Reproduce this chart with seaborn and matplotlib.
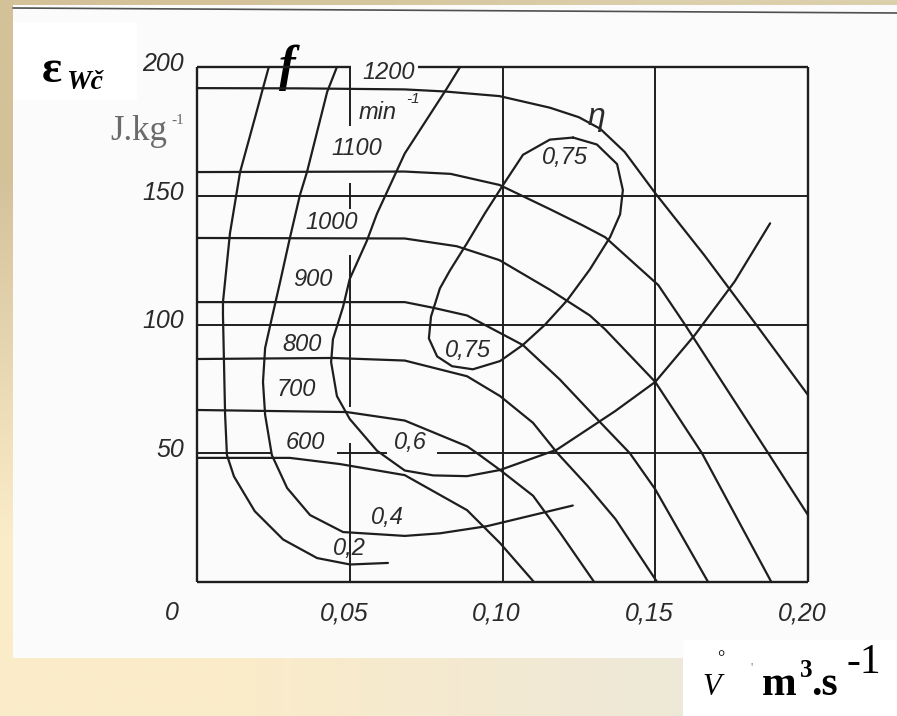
import numpy as np
import pandas as pd
import matplotlib
matplotlib.use("Agg")
import matplotlib.pyplot as plt
from matplotlib.patches import Rectangle
import seaborn as sns

# ---------------- data ----------------
# head-flow characteristics at constant speed (min^-1): flow Q [m3/s], specific energy E [J/kg]
speeds = [600, 700, 800, 900, 1000, 1100, 1200]
q_600 = [0, 0.0304, 0.0468, 0.068, 0.0884, 0.0992, 0.1103]
e_600 = [48.2, 48.2, 45.8, 41.5, 27.9, 15.1, 0]
q_700 = [0, 0.049, 0.068, 0.0884, 0.0917, 0.0992, 0.11, 0.1188, 0.13]
e_700 = [66.8, 66.0, 62.7, 52.7, 50, 43.5, 33.5, 19.2, 0]
q_800 = [0, 0.0445, 0.068, 0.0884, 0.0992, 0.11, 0.118, 0.1277, 0.137, 0.1506]
e_800 = [86.6, 87.0, 86.0, 79.9, 72.2, 61.8, 50, 37.5, 24.4, 0]
q_900 = [0, 0.068, 0.0773, 0.0884, 0.1067, 0.1188, 0.132, 0.1417, 0.15, 0.1673]
e_900 = [108.7, 108.7, 106.5, 103.5, 92, 78.6, 62, 50, 36, 0]
q_1000 = [0, 0.068, 0.085, 0.099, 0.1155, 0.1286, 0.1336, 0.15, 0.1653, 0.188]
e_1000 = [133.6, 133.4, 130.4, 125, 113.5, 103.5, 98.1, 77.7, 50, 0]
q_1100 = [0, 0.068, 0.083, 0.099, 0.1155, 0.1264, 0.1336, 0.151, 0.1597, 0.187, 0.2]
e_1100 = [159.2, 159.4, 158.5, 154.2, 144.8, 138.4, 133.9, 115.3, 100, 50, 26]
q_1200 = [0, 0.034, 0.068, 0.081, 0.099, 0.1155, 0.125, 0.132, 0.14, 0.15, 0.166, 0.183, 0.2]
e_1200 = [191.8, 191.7, 191.3, 190.5, 188.7, 184.2, 180.5, 176, 167, 151, 127, 100, 72.6]

# iso-efficiency lines
eta_levels = ["0,2", "0,4", "0,6", "0,75"]
q_eta02 = [0.0235, 0.0216, 0.0196, 0.0141, 0.0108, 0.0085, 0.0085, 0.0092, 0.0098,
           0.0121, 0.0189, 0.0282, 0.0393, 0.0501, 0.0625]
e_eta02 = [200, 191.8, 183, 159.2, 135.5, 108.7, 103.7, 64.9, 49.3,
           41, 27.5, 16.5, 9.3, 6.8, 7.4]
q_eta04 = [0.0458, 0.0426, 0.036, 0.0337, 0.0304, 0.0272, 0.0245, 0.0223, 0.0216,
           0.0223, 0.0245, 0.0295, 0.037, 0.0478, 0.068, 0.0795, 0.095, 0.123]
e_eta04 = [200, 190.3, 159.2, 150.3, 133.6, 116.5, 102.5, 90.9, 77.7,
           64.9, 49.3, 36.5, 26, 19.4, 17.9, 18.9, 21.7, 29.7]
q_eta06 = [0.0861, 0.0818, 0.068, 0.0589, 0.0556, 0.05, 0.0478, 0.0445, 0.0439,
           0.0458, 0.05, 0.0589, 0.068, 0.0773, 0.0884, 0.0992, 0.1178, 0.1368,
           0.15, 0.163, 0.176, 0.1876]
e_eta06 = [200, 191.7, 166.4, 143, 132.5, 117.7, 106.8, 94.3, 85.4,
           72.2, 63.3, 51, 43.3, 41.4, 41.1, 43.5, 51.4, 66.3,
           77.7, 96, 116.7, 139.3]
q_eta075 = [0.1231, 0.1155, 0.1067, 0.1002, 0.0943, 0.0884, 0.0828, 0.0795, 0.0766,
            0.0759, 0.0786, 0.0835, 0.0903, 0.0992, 0.1067, 0.1139, 0.1211, 0.1286,
            0.1352, 0.1385, 0.1394, 0.1375, 0.1309, 0.1231]
e_eta075 = [172.6, 171.8, 165.9, 154.2, 143.3, 131.6, 121, 114, 103.1,
            94.6, 87.6, 83.8, 82.6, 85.8, 92.1, 99.9, 109.3, 121.4,
            133.9, 142.8, 152.2, 162.3, 169.9, 172.6]

x_ticks = [0.05, 0.10, 0.15, 0.20]
x_tick_labels = ["0,05", "0,10", "0,15", "0,20"]
y_ticks = [50, 100, 150, 200]
y_tick_labels = ["50", "100", "150", "200"]

# ---------------- figure ----------------
sns.set_style("white")
plt.rcParams["font.family"] = ["Liberation Sans", "DejaVu Sans"]

W, H = 897, 716
fig = plt.figure(figsize=(W / 100, H / 100), dpi=100)

# page background (pixel coordinates, y downwards)
bg = fig.add_axes([0, 0, 1, 1], zorder=-10)
c_tl = np.array([211, 194, 153]) / 255
c_tr = np.array([220, 207, 172]) / 255
c_bl = np.array([251, 236, 201]) / 255
c_br = np.array([238, 232, 216]) / 255
grad = np.array([[c_tl, c_tr], [c_bl, c_br]])
bg.imshow(grad, extent=[0, W, H, 0], aspect="auto", interpolation="bilinear")
bg.set_xlim(0, W)
bg.set_ylim(H, 0)
bg.axis("off")
bg.add_patch(Rectangle((13, 5), W - 13, 653, color="#fbfbfb", lw=0))
bg.add_patch(Rectangle((683, 640), W - 683, H - 640, color="white", lw=0))
bg.add_patch(Rectangle((13, 22), 124, 78, color="white", lw=0))
bg.plot([13, W], [8, 13], color="#505050", lw=1.2)

# axis labels as lettered on the sheet
serif = "Liberation Serif"
bg.text(42, 82, "ε", family=serif, weight="bold", fontsize=34, color="black", va="baseline")
bg.text(66, 89, "Wč", family=serif, weight="bold", style="italic", fontsize=20,
        color="black", va="baseline")
bg.text(110, 140, "J.kg", family=serif, fontsize=25, color="#6a6a6a", va="baseline")
bg.text(171, 124, "-1", family=serif, fontsize=11, color="#6a6a6a", va="baseline")
bg.text(279, 80, "f", family=serif, weight="bold", style="italic", fontsize=36,
        color="black", va="baseline")
bg.text(702, 695, "V", family=serif, style="italic", fontsize=22, color="black", va="baseline")
bg.text(721, 659, "°", family=serif, fontsize=13, color="black", ha="center", va="center")
bg.text(752, 668, "'", family=serif, fontsize=9, color="#777777", ha="center", va="center")
bg.text(762, 695, "m", family=serif, weight="bold", fontsize=30, color="black", va="baseline")
bg.text(800, 677, "3", family=serif, weight="bold", fontsize=18, color="black", va="baseline")
bg.text(811, 695, ".s", family=serif, weight="bold", fontsize=30, color="black", va="baseline")
bg.text(846, 673, "-1", family=serif, fontsize=30, color="black", va="baseline")

# chart area
ax = fig.add_axes([197 / W, (H - 582) / H, 611 / W, 515 / H])
ax.set_xlim(0, 0.2)
ax.set_ylim(0, 200)
ax.patch.set_alpha(0)
for s in ax.spines.values():
    s.set_visible(False)
ax.set_xticks([])
ax.set_yticks([])

ink = "#1e1e1e"
lw_curve = 1.6
lw_grid = 1.4

frames = []
speed_q = [q_600, q_700, q_800, q_900, q_1000, q_1100, q_1200]
speed_e = [e_600, e_700, e_800, e_900, e_1000, e_1100, e_1200]
for n, q, e in zip(speeds, speed_q, speed_e):
    frames.append(pd.DataFrame({"Q": q, "E": e, "curve": f"n{n}"}))
eta_q = [q_eta02, q_eta04, q_eta06, q_eta075]
eta_e = [e_eta02, e_eta04, e_eta06, e_eta075]
for lev, q, e in zip(eta_levels, eta_q, eta_e):
    frames.append(pd.DataFrame({"Q": q, "E": e, "curve": f"eta{lev}"}))
curves = pd.concat(frames, ignore_index=True)

sns.lineplot(data=curves, x="Q", y="E", units="curve", estimator=None, sort=False,
             color=ink, linewidth=lw_curve, legend=False, ax=ax)
for ln in ax.lines:
    ln.set_clip_on(False)
    ln.set_solid_joinstyle("round")
ax.set_xlabel("")
ax.set_ylabel("")

# frame (top edge interrupted by the speed unit label)
ax.vlines([0, 0.2], 0, 200, color=ink, lw=1.7, clip_on=False)
ax.hlines(0, 0, 0.2, color=ink, lw=1.7, clip_on=False)
ax.hlines(200, 0, 0.0504, color=ink, lw=1.7, clip_on=False)
ax.hlines(200, 0.0723, 0.2, color=ink, lw=1.7, clip_on=False)

# grid lines
ax.vlines([0.10, 0.15], 0, 200, color=ink, lw=lw_grid, clip_on=False)
for lo, hi in [(177, 200), (145, 155), (68, 127), (0, 54)]:
    ax.vlines(0.05, lo, hi, color=ink, lw=lw_grid, clip_on=False)
ax.hlines([100, 150], 0, 0.2, color=ink, lw=lw_grid, clip_on=False)
for lo, hi in [(0, 0.0242), (0.0458, 0.0622), (0.0786, 0.2)]:
    ax.hlines(50, lo, hi, color=ink, lw=lw_grid, clip_on=False)

# tick labels
lab = dict(style="italic", fontsize=18, color="#2a2a2a", annotation_clip=False)
for v, t in zip(y_ticks, y_tick_labels):
    ax.annotate(t, xy=(0, v), xytext=(-13, 3), textcoords="offset pixels",
                ha="right", va="center", **lab)
for v, t in zip(x_ticks, x_tick_labels):
    ax.annotate(t, xy=(v, 0), xytext=(-6, -31), textcoords="offset pixels",
                ha="center", va="center", **lab)
ax.annotate("0", xy=(0, 0), xytext=(-25, -31), textcoords="offset pixels",
            ha="center", va="center", **lab)

# curve labels
cl = dict(style="italic", fontsize=17, color="#2a2a2a", ha="center", va="center")
speed_label_pos = {600: (0.0354, 54), 700: (0.0324, 74.6), 800: (0.0344, 92.4),
                   900: (0.038, 117.3), 1000: (0.0442, 139.8), 1100: (0.0524, 168.5),
                   1200: (0.0628, 198)}
for n in speeds:
    x, y = speed_label_pos[n]
    ax.text(x, y, str(n), **cl)
ax.text(0.0592, 182.5, "min", **cl)
ax.text(0.0706, 187.5, "-1", style="italic", fontsize=11, color="#2a2a2a",
        ha="center", va="center")
eta_label_pos = [[(0.05, 13.2)], [(0.0622, 25.2)], [(0.0697, 54)],
                 [(0.1205, 164.8), (0.0887, 90)]]
for lev, spots in zip(eta_levels, eta_label_pos):
    for x, y in spots:
        ax.text(x, y, lev, **cl)
ax.text(0.1306, 180.5, "η", style="italic", fontsize=23, color="#2a2a2a",
        ha="center", va="center")

fig.savefig("out.png", dpi=100)
